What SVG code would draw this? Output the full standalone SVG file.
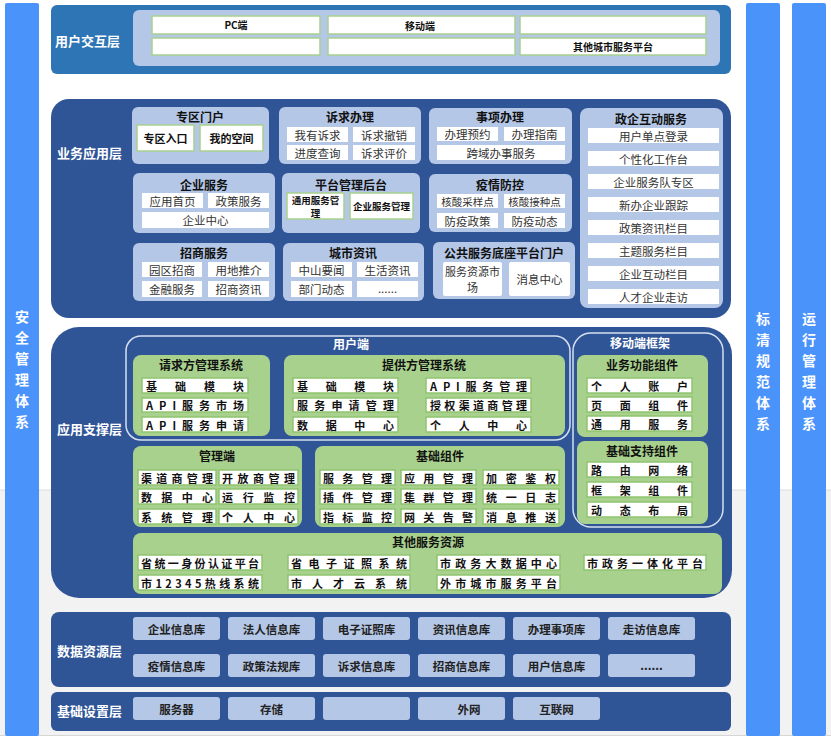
<svg xmlns="http://www.w3.org/2000/svg" width="831" height="739" viewBox="0 0 831 739" font-family="'Noto Sans CJK SC', 'Liberation Sans', sans-serif">
<style>
.strip{fill:#4a93fb}
.vt{fill:#fff;font-size:14px;font-weight:bold;text-anchor:middle;dominant-baseline:central}
.lbl{fill:#fff;font-size:13px;font-weight:bold;dominant-baseline:central}
.layer{fill:#2f5597}
.lb{fill:#b4c7e7}
.wb{fill:#fff}
.gbx{fill:#fff;stroke:#a9d18e;stroke-width:1.5}
.gp{fill:#a9d18e}
.jb{fill:#fff;stroke:#8fc46f;stroke-width:1.5}
.ol{fill:none;stroke:#d6dff0;stroke-width:1.5}
.t{font-size:11.5px;fill:#333;text-anchor:middle;dominant-baseline:central}
.tb{font-size:11px;font-weight:bold;fill:#111;text-anchor:middle;dominant-baseline:central}
.ti{font-size:12px;font-weight:bold;fill:#111;text-anchor:middle;dominant-baseline:central}
.tw{font-size:12px;font-weight:bold;fill:#fff;text-anchor:middle;dominant-baseline:central}
.js{font-size:11px;font-weight:bold;fill:#111;dominant-baseline:central}
.dt{font-size:11.5px;font-weight:bold;fill:#222;text-anchor:middle;dominant-baseline:central}
</style>
<rect x="0" y="0" width="831" height="739" fill="#fff"/>
<rect x="0" y="490" width="831" height="246" fill="#f2f2f2"/>
<line x1="0" y1="490" x2="831" y2="490" stroke="#dcdcdc"/>
<line x1="0" y1="735.5" x2="831" y2="735.5" stroke="#d6d6d6"/>

<g id="safety">
<rect class="strip" x="5" y="3" width="34" height="733" rx="2"/>
<text class="vt" x="22" y="316">安</text><text class="vt" x="22" y="337">全</text><text class="vt" x="22" y="358">管</text><text class="vt" x="22" y="379">理</text><text class="vt" x="22" y="400">体</text><text class="vt" x="22" y="421">系</text>
</g>
<g id="standard">
<rect class="strip" x="746" y="3" width="34" height="733" rx="2"/>
<text class="vt" x="763" y="318">标</text><text class="vt" x="763" y="339">清</text><text class="vt" x="763" y="360">规</text><text class="vt" x="763" y="381">范</text><text class="vt" x="763" y="402">体</text><text class="vt" x="763" y="423">系</text>
</g>
<g id="operation">
<rect class="strip" x="792" y="3" width="34" height="733" rx="2"/>
<text class="vt" x="809" y="318">运</text><text class="vt" x="809" y="339">行</text><text class="vt" x="809" y="360">管</text><text class="vt" x="809" y="381">理</text><text class="vt" x="809" y="402">体</text><text class="vt" x="809" y="423">系</text>
</g>

<g id="user-layer">
<rect x="51" y="5" width="680" height="69" rx="6" fill="#2e75b6"/>
<text class="lbl" x="55" y="40">用户交互层</text>
<rect x="133" y="10" width="587" height="56" rx="6" class="lb"/>
<rect class="gbx" x="152" y="16" width="168" height="18"/>
<rect class="gbx" x="328" y="16" width="187" height="18"/>
<rect class="gbx" x="520" y="16" width="186" height="18"/>
<rect class="gbx" x="152" y="38" width="168" height="17"/>
<rect class="gbx" x="328" y="38" width="187" height="17"/>
<rect class="gbx" x="520" y="38" width="186" height="17"/>
<text class="tb" x="236" y="24" style="font-size:10px">PC端</text>
<text class="tb" x="420" y="25" style="font-size:10px">移动端</text>
<text class="tb" x="613" y="46" style="font-size:10px">其他城市服务平台</text>
</g>

<g id="business-layer">
<rect class="layer" x="51" y="99" width="680" height="219" rx="18"/>
<text class="lbl" x="57" y="152">业务应用层</text>
</g>
<g id="zqmh">
<rect class="lb" x="132" y="107" width="137" height="57" rx="6"/>
<text class="ti" x="200" y="116">专区门户</text>
<rect class="gbx" x="137" y="125" width="57" height="26"/><text class="tb" x="165.5" y="138">专区入口</text>
<rect class="gbx" x="200" y="125" width="63" height="26"/><text class="tb" x="231.5" y="138">我的空间</text>
</g>
<g id="sqbl">
<rect class="lb" x="279" y="107" width="142" height="57" rx="6"/>
<text class="ti" x="350" y="116">诉求办理</text>
<rect class="wb" x="287" y="127" width="61" height="15"/><text class="t" x="317.5" y="134.5">我有诉求</text>
<rect class="wb" x="353" y="127" width="62" height="15"/><text class="t" x="384" y="134.5">诉求撤销</text>
<rect class="wb" x="287" y="145" width="61" height="15"/><text class="t" x="317.5" y="152.5">进度查询</text>
<rect class="wb" x="353" y="145" width="62" height="15"/><text class="t" x="384" y="152.5">诉求评价</text>
</g>
<g id="sxbl">
<rect class="lb" x="429" y="108" width="143" height="56" rx="6"/>
<text class="ti" x="500" y="116">事项办理</text>
<rect class="wb" x="437" y="127" width="61" height="14"/><text class="t" x="467.5" y="134">办理预约</text>
<rect class="wb" x="504" y="127" width="61" height="14"/><text class="t" x="534.5" y="134">办理指南</text>
<rect class="wb" x="437" y="145" width="128" height="15"/><text class="t" x="501" y="152.5">跨域办事服务</text>
</g>
<g id="qyfw">
<rect class="lb" x="133" y="173" width="142" height="60" rx="6"/>
<text class="ti" x="204" y="184">企业服务</text>
<rect class="wb" x="142" y="193" width="61" height="15"/><text class="t" x="172.5" y="200.5">应用首页</text>
<rect class="wb" x="208" y="193" width="61" height="15"/><text class="t" x="238.5" y="200.5">政策服务</text>
<rect class="wb" x="142" y="212" width="127" height="16"/><text class="t" x="205.5" y="220">企业中心</text>
</g>
<g id="ptgl">
<rect class="lb" x="282" y="173" width="138" height="60" rx="6"/>
<text class="ti" x="351" y="184">平台管理后台</text>
<rect class="gbx" x="287" y="193" width="57" height="26"/><text class="tb" style="font-size:9.5px"><tspan x="315.5" y="199.5">通用服务管</tspan><tspan x="315.5" y="212.5">理</tspan></text>
<rect class="gbx" x="350" y="193" width="63" height="26"/><text class="tb" x="381.5" y="206" style="font-size:9.5px">企业服务管理</text>
</g>
<g id="yqfk">
<rect class="lb" x="429" y="174" width="143" height="58" rx="6"/>
<text class="ti" x="500" y="184">疫情防控</text>
<rect class="wb" x="437" y="194" width="61" height="14"/><text class="t" x="467.5" y="201" style="font-size:10.5px">核酸采样点</text>
<rect class="wb" x="504" y="194" width="61" height="14"/><text class="t" x="534.5" y="201" style="font-size:10.5px">核酸接种点</text>
<rect class="wb" x="437" y="213" width="61" height="15"/><text class="t" x="467.5" y="220.5">防疫政策</text>
<rect class="wb" x="504" y="213" width="61" height="15"/><text class="t" x="534.5" y="220.5">防疫动态</text>
</g>
<g id="zsfw">
<rect class="lb" x="133" y="243" width="142" height="58" rx="6"/>
<text class="ti" x="204" y="252">招商服务</text>
<rect class="wb" x="142" y="262" width="60" height="15"/><text class="t" x="172" y="269.5">园区招商</text>
<rect class="wb" x="208" y="262" width="61" height="15"/><text class="t" x="238.5" y="269.5">用地推介</text>
<rect class="wb" x="142" y="281" width="60" height="16"/><text class="t" x="172" y="289">金融服务</text>
<rect class="wb" x="208" y="281" width="61" height="16"/><text class="t" x="238.5" y="289">招商资讯</text>
</g>
<g id="cszx">
<rect class="lb" x="283" y="243" width="141" height="58" rx="6"/>
<text class="ti" x="353" y="252">城市资讯</text>
<rect class="wb" x="291" y="262" width="61" height="15"/><text class="t" x="321.5" y="269.5">中山要闻</text>
<rect class="wb" x="357" y="262" width="61" height="15"/><text class="t" x="387.5" y="269.5">生活资讯</text>
<rect class="wb" x="291" y="281" width="61" height="16"/><text class="t" x="321.5" y="289">部门动态</text>
<rect class="wb" x="357" y="281" width="61" height="16"/><text class="t" x="387.5" y="288">......</text>
</g>
<g id="ggfw">
<rect class="lb" x="433" y="242" width="142" height="57" rx="6"/>
<text class="ti" x="504" y="252">公共服务底座平台门户</text>
<rect class="wb" x="443" y="262" width="59" height="34" rx="2"/><text class="t" style="font-size:11px"><tspan x="472.5" y="271">服务资源市</tspan><tspan x="472.5" y="287">场</tspan></text>
<rect class="wb" x="509" y="262" width="61" height="34" rx="2"/><text class="t" x="539.5" y="279">消息中心</text>
</g>
<g id="zqhd">
<rect class="lb" x="580" y="108" width="143" height="200" rx="8"/>
<text class="ti" x="651" y="118">政企互动服务</text>
<rect class="wb" x="588" y="128" width="131" height="15"/><text class="t" x="653.5" y="135.5">用户单点登录</text>
<rect class="wb" x="588" y="151" width="131" height="15"/><text class="t" x="653.5" y="158.5">个性化工作台</text>
<rect class="wb" x="588" y="174" width="131" height="15"/><text class="t" x="653.5" y="181.5">企业服务队专区</text>
<rect class="wb" x="588" y="197" width="131" height="15"/><text class="t" x="653.5" y="204.5">新办企业跟踪</text>
<rect class="wb" x="588" y="220" width="131" height="15"/><text class="t" x="653.5" y="227.5">政策资讯栏目</text>
<rect class="wb" x="588" y="243" width="131" height="15"/><text class="t" x="653.5" y="250.5">主题服务栏目</text>
<rect class="wb" x="588" y="266" width="131" height="15"/><text class="t" x="653.5" y="273.5">企业互动栏目</text>
<rect class="wb" x="588" y="289" width="131" height="15"/><text class="t" x="653.5" y="296.5">人才企业走访</text>
</g>

<g id="support-layer">
<rect class="layer" x="51" y="327" width="681" height="271" rx="28"/>
<text class="lbl" x="57" y="428">应用支撑层</text>
<rect class="ol" x="126" y="336" width="444" height="104" rx="15"/>
<text class="tw" x="351" y="343">用户端</text>
<rect class="ol" x="573" y="333" width="150" height="194" rx="18"/>
<text class="tw" x="640" y="342">移动端框架</text>
</g>
<g id="qqf">
<rect class="gp" x="133" y="355" width="137" height="81" rx="8"/>
<text class="ti" x="201" y="364">请求方管理系统</text>
<rect class="jb" x="142" y="378" width="106" height="15"/><text class="js" x="146" y="385.5" textLength="98" lengthAdjust="spacing">基础模块</text>
<rect class="jb" x="142" y="398" width="106" height="14"/><text class="js" x="146" y="405" textLength="98" lengthAdjust="spacing">API服务市场</text>
<rect class="jb" x="142" y="417" width="106" height="15"/><text class="js" x="146" y="424.5" textLength="98" lengthAdjust="spacing">API服务申请</text>
</g>
<g id="tgf">
<rect class="gp" x="284" y="355" width="281" height="81" rx="8"/>
<text class="ti" x="424" y="364">提供方管理系统</text>
<rect class="jb" x="293" y="378" width="105" height="15"/><text class="js" x="297" y="385.5" textLength="97" lengthAdjust="spacing">基础模块</text>
<rect class="jb" x="293" y="398" width="105" height="14"/><text class="js" x="297" y="405" textLength="97" lengthAdjust="spacing">服务申请管理</text>
<rect class="jb" x="293" y="417" width="105" height="15"/><text class="js" x="297" y="424.5" textLength="97" lengthAdjust="spacing">数据中心</text>
<rect class="jb" x="426" y="378" width="105" height="15"/><text class="js" x="430" y="385.5" textLength="97" lengthAdjust="spacing">API服务管理</text>
<rect class="jb" x="426" y="398" width="105" height="14"/><text class="js" x="430" y="405" textLength="97" lengthAdjust="spacing">授权渠道商管理</text>
<rect class="jb" x="426" y="417" width="105" height="15"/><text class="js" x="430" y="424.5" textLength="97" lengthAdjust="spacing">个人中心</text>
</g>
<g id="ywgn">
<rect class="gp" x="577" y="355" width="131" height="82" rx="8"/>
<text class="ti" x="642" y="364">业务功能组件</text>
<rect class="jb" x="587" y="378" width="105" height="15"/><text class="js" x="591" y="385.5" textLength="97" lengthAdjust="spacing">个人账户</text>
<rect class="jb" x="587" y="397" width="105" height="15"/><text class="js" x="591" y="404.5" textLength="97" lengthAdjust="spacing">页面组件</text>
<rect class="jb" x="587" y="416" width="105" height="15"/><text class="js" x="591" y="423.5" textLength="97" lengthAdjust="spacing">通用服务</text>
</g>
<g id="jczc">
<rect class="gp" x="577" y="441" width="131" height="83" rx="8"/>
<text class="ti" x="642" y="450">基础支持组件</text>
<rect class="jb" x="587" y="462" width="105" height="15"/><text class="js" x="591" y="469.5" textLength="97" lengthAdjust="spacing">路由网络</text>
<rect class="jb" x="587" y="482" width="105" height="15"/><text class="js" x="591" y="489.5" textLength="97" lengthAdjust="spacing">框架组件</text>
<rect class="jb" x="587" y="502" width="105" height="15"/><text class="js" x="591" y="509.5" textLength="97" lengthAdjust="spacing">动态布局</text>
</g>
<g id="gld">
<rect class="gp" x="133" y="446" width="169" height="81" rx="8"/>
<text class="ti" x="217" y="455">管理端</text>
<rect class="jb" x="138" y="470" width="78" height="15"/><text class="js" x="141" y="477.5" textLength="72" lengthAdjust="spacing">渠道商管理</text>
<rect class="jb" x="219" y="470" width="79" height="15"/><text class="js" x="222" y="477.5" textLength="73" lengthAdjust="spacing">开放商管理</text>
<rect class="jb" x="138" y="489" width="78" height="15"/><text class="js" x="141" y="496.5" textLength="72" lengthAdjust="spacing">数据中心</text>
<rect class="jb" x="219" y="489" width="79" height="15"/><text class="js" x="222" y="496.5" textLength="73" lengthAdjust="spacing">运行监控</text>
<rect class="jb" x="138" y="509" width="78" height="15"/><text class="js" x="141" y="516.5" textLength="72" lengthAdjust="spacing">系统管理</text>
<rect class="jb" x="219" y="509" width="79" height="15"/><text class="js" x="222" y="516.5" textLength="73" lengthAdjust="spacing">个人中心</text>
</g>
<g id="jczj">
<rect class="gp" x="315" y="446" width="250" height="81" rx="8"/>
<text class="ti" x="440" y="455">基础组件</text>
<rect class="jb" x="320" y="470" width="75" height="15"/><text class="js" x="323" y="477.5" textLength="69" lengthAdjust="spacing">服务管理</text>
<rect class="jb" x="401" y="470" width="75" height="15"/><text class="js" x="404" y="477.5" textLength="69" lengthAdjust="spacing">应用管理</text>
<rect class="jb" x="483" y="470" width="76" height="15"/><text class="js" x="486" y="477.5" textLength="70" lengthAdjust="spacing">加密鉴权</text>
<rect class="jb" x="320" y="489" width="75" height="15"/><text class="js" x="323" y="496.5" textLength="69" lengthAdjust="spacing">插件管理</text>
<rect class="jb" x="401" y="489" width="75" height="15"/><text class="js" x="404" y="496.5" textLength="69" lengthAdjust="spacing">集群管理</text>
<rect class="jb" x="483" y="489" width="76" height="15"/><text class="js" x="486" y="496.5" textLength="70" lengthAdjust="spacing">统一日志</text>
<rect class="jb" x="320" y="509" width="75" height="15"/><text class="js" x="323" y="516.5" textLength="69" lengthAdjust="spacing">指标监控</text>
<rect class="jb" x="401" y="509" width="75" height="15"/><text class="js" x="404" y="516.5" textLength="69" lengthAdjust="spacing">网关告警</text>
<rect class="jb" x="483" y="509" width="76" height="15"/><text class="js" x="486" y="516.5" textLength="70" lengthAdjust="spacing">消息推送</text>
</g>
<g id="qtfw">
<rect class="gp" x="133" y="533" width="589" height="61" rx="8"/>
<text class="ti" x="428" y="541">其他服务资源</text>
<rect class="jb" x="138" y="555" width="124" height="15"/><text class="js" x="141" y="562.5" textLength="118" lengthAdjust="spacing">省统一身份认证平台</text>
<rect class="jb" x="288" y="555" width="122" height="15"/><text class="js" x="291" y="562.5" textLength="116" lengthAdjust="spacing">省电子证照系统</text>
<rect class="jb" x="437" y="555" width="123" height="15"/><text class="js" x="440" y="562.5" textLength="117" lengthAdjust="spacing">市政务大数据中心</text>
<rect class="jb" x="584" y="555" width="122" height="15"/><text class="js" x="587" y="562.5" textLength="116" lengthAdjust="spacing">市政务一体化平台</text>
<rect class="jb" x="138" y="575" width="124" height="15"/><text class="js" x="141" y="582.5" textLength="118" lengthAdjust="spacing">市12345热线系统</text>
<rect class="jb" x="288" y="575" width="122" height="15"/><text class="js" x="291" y="582.5" textLength="116" lengthAdjust="spacing">市人才云系统</text>
<rect class="jb" x="437" y="575" width="123" height="15"/><text class="js" x="440" y="582.5" textLength="117" lengthAdjust="spacing">外市城市服务平台</text>
</g>

<g id="data-layer">
<rect class="layer" x="51" y="612" width="680" height="75" rx="8"/>
<text class="lbl" x="57" y="650">数据资源层</text>
<rect class="lb" x="133" y="617" width="87" height="23" rx="3"/><text class="dt" x="176.5" y="628.5">企业信息库</text>
<rect class="lb" x="228" y="617" width="87" height="23" rx="3"/><text class="dt" x="271.5" y="628.5">法人信息库</text>
<rect class="lb" x="323" y="617" width="87" height="23" rx="3"/><text class="dt" x="366.5" y="628.5">电子证照库</text>
<rect class="lb" x="418" y="617" width="87" height="23" rx="3"/><text class="dt" x="461.5" y="628.5">资讯信息库</text>
<rect class="lb" x="513" y="617" width="87" height="23" rx="3"/><text class="dt" x="556.5" y="628.5">办理事项库</text>
<rect class="lb" x="608" y="617" width="87" height="23" rx="3"/><text class="dt" x="651.5" y="628.5">走访信息库</text>
<rect class="lb" x="133" y="654" width="87" height="23" rx="3"/><text class="dt" x="176.5" y="665.5">疫情信息库</text>
<rect class="lb" x="228" y="654" width="87" height="23" rx="3"/><text class="dt" x="271.5" y="665.5">政策法规库</text>
<rect class="lb" x="323" y="654" width="87" height="23" rx="3"/><text class="dt" x="366.5" y="665.5">诉求信息库</text>
<rect class="lb" x="418" y="654" width="87" height="23" rx="3"/><text class="dt" x="461.5" y="665.5">招商信息库</text>
<rect class="lb" x="513" y="654" width="87" height="23" rx="3"/><text class="dt" x="556.5" y="665.5">用户信息库</text>
<rect class="lb" x="608" y="654" width="87" height="23" rx="3"/><text class="dt" x="651.5" y="664.5">......</text>
</g>

<g id="base-layer">
<rect class="layer" x="51" y="692" width="680" height="39" rx="6"/>
<text class="lbl" x="57" y="710">基础设置层</text>
<rect class="lb" x="133" y="697" width="87" height="23" rx="3"/><text class="dt" x="176.5" y="708.5">服务器</text>
<rect class="lb" x="228" y="697" width="87" height="23" rx="3"/><text class="dt" x="271.5" y="708.5">存储</text>
<rect class="lb" x="323" y="697" width="87" height="23" rx="3"/>
<rect class="lb" x="418" y="697" width="87" height="23" rx="3"/><text class="dt" x="469" y="708.5">外网</text>
<rect class="lb" x="513" y="697" width="87" height="23" rx="3"/><text class="dt" x="556.5" y="708.5">互联网</text>
</g>
</svg>
